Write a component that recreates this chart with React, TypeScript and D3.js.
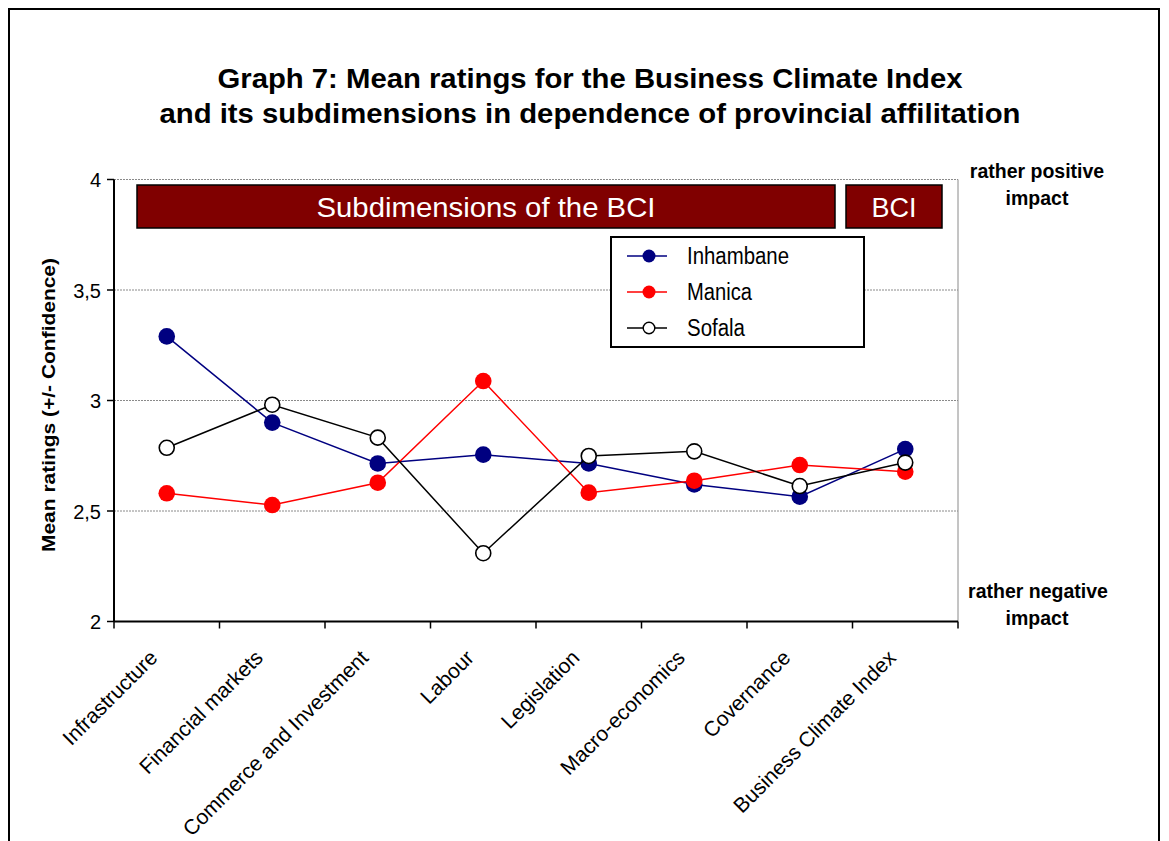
import React from "react";
import * as d3 from "d3";

const categories = [
  "Infrastructure",
  "Financial markets",
  "Commerce and Investment",
  "Labour",
  "Legislation",
  "Macro-economics",
  "Covernance",
  "Business Climate Index",
];
const inhambane = [3.29, 2.9, 2.715, 2.755, 2.715, 2.62, 2.565, 2.78];
const manica = [2.58, 2.527, 2.628, 3.088, 2.583, 2.637, 2.708, 2.678];
const sofala = [2.786, 2.981, 2.832, 2.309, 2.749, 2.77, 2.613, 2.719];
const yTicks = [2, 2.5, 3, 3.5, 4];
const yTickLabels = ["2", "2,5", "3", "3,5", "4"];
const seriesNames = ["Inhambane", "Manica", "Sofala"];

const FONT = "'Liberation Sans', Arial, sans-serif";

const W = 1169;
const H = 841;
const left = 114;
const right = 958;
const top = 179.5;
const bottom = 621.5;

export default function App() {
  const x = d3.scaleBand<string>().domain(categories).range([left, right]);
  const y = d3.scaleLinear().domain([2, 4]).range([bottom, top]);
  const cx = (c: string) => (x(c) as number) + x.bandwidth() / 2;

  const series = [
    { name: seriesNames[0], values: inhambane, stroke: "#000080", fill: "#000080", mstroke: "#000080" },
    { name: seriesNames[1], values: manica, stroke: "#FF0000", fill: "#FF0000", mstroke: "#FF0000" },
    { name: seriesNames[2], values: sofala, stroke: "#000000", fill: "#FFFFFF", mstroke: "#000000" },
  ];

  const line = d3
    .line<number>()
    .x((_, i) => cx(categories[i]))
    .y((d) => y(d));

  const boundaries = d3.range(categories.length + 1).map((i) => left + i * x.step());

  const legendX = 611;
  const legendY = 237;
  const legendRows = [256, 292, 328];
  const legendLens = [102, 65, 58];

  return (
    <div style={{ position: "absolute", left: 0, top: 0, width: W, height: H, background: "#fff" }}>
      <svg width={W} height={H} style={{ display: "block" }} fontFamily={FONT}>
        <rect x={0} y={0} width={W} height={H} fill="#fff" />
        {/* outer frame */}
        <rect x={9} y={9} width={1150} height={900} fill="none" stroke="#000" strokeWidth={2} />

        {/* title */}
        <text x={590} y={88} fontSize={28} fontWeight="bold" textAnchor="middle" textLength={745} lengthAdjust="spacingAndGlyphs">
          Graph 7: Mean ratings for the Business Climate Index
        </text>
        <text x={590} y={123} fontSize={28} fontWeight="bold" textAnchor="middle" textLength={861} lengthAdjust="spacingAndGlyphs">
          and its subdimensions in dependence of provincial affilitation
        </text>

        {/* gridlines */}
        {yTicks.slice(1).map((t) => (
          <line key={t} x1={left} x2={right} y1={y(t)} y2={y(t)} stroke="#8a8a8a" strokeWidth={1} strokeDasharray="2,1" />
        ))}
        <line x1={right} x2={right} y1={top} y2={bottom} stroke="#8a8a8a" strokeWidth={1} />

        {/* maroon boxes */}
        <rect x={137} y={185} width={698} height={43} fill="#800000" stroke="#000" strokeWidth={1.5} />
        <text x={486} y={217} fontSize={27} fill="#fff" textAnchor="middle" textLength={339} lengthAdjust="spacingAndGlyphs">
          Subdimensions of the BCI
        </text>
        <rect x={846} y={185} width={96} height={43} fill="#800000" stroke="#000" strokeWidth={1.5} />
        <text x={894} y={217} fontSize={27} fill="#fff" textAnchor="middle">
          BCI
        </text>

        {/* axes */}
        <line x1={left} x2={left} y1={top} y2={bottom} stroke="#000" strokeWidth={2} />
        <line x1={left} x2={right} y1={bottom} y2={bottom} stroke="#000" strokeWidth={2} />
        {yTicks.map((t, i) => (
          <g key={t}>
            <line x1={left - 7} x2={left} y1={y(t)} y2={y(t)} stroke="#000" strokeWidth={1.5} />
            <text x={101} y={y(t) + 7.5} fontSize={20} textAnchor="end">
              {yTickLabels[i]}
            </text>
          </g>
        ))}
        {boundaries.map((b, i) => (
          <line key={i} x1={b} x2={b} y1={bottom} y2={bottom + 7} stroke="#000" strokeWidth={1.5} />
        ))}
        {categories.map((c) => (
          <text
            key={c}
            transform={`translate(${cx(c) - 8},${659}) rotate(-45)`}
            fontSize={21}
            textAnchor="end"
          >
            {c}
          </text>
        ))}

        {/* y-axis title */}
        <text
          transform={`translate(55,405) rotate(-90)`}
          fontSize={19}
          fontWeight="bold"
          textAnchor="middle"
          textLength={294}
          lengthAdjust="spacingAndGlyphs"
        >
          Mean ratings (+/- Confidence)
        </text>

        {/* right annotations */}
        <text x={1037} y={178} fontSize={19.5} fontWeight="bold" textAnchor="middle">rather positive</text>
        <text x={1037} y={205} fontSize={19.5} fontWeight="bold" textAnchor="middle">impact</text>
        <text x={1038} y={598} fontSize={19.5} fontWeight="bold" textAnchor="middle">rather negative</text>
        <text x={1037} y={625} fontSize={19.5} fontWeight="bold" textAnchor="middle">impact</text>

        {/* series */}
        {series.map((s) => (
          <g key={s.name}>
            <path d={line(s.values) || ""} fill="none" stroke={s.stroke} strokeWidth={1.5} />
            {s.values.map((v, i) => (
              <circle key={i} cx={cx(categories[i])} cy={y(v)} r={s.fill === "#FFFFFF" ? 7.5 : 8.3} fill={s.fill} stroke={s.mstroke} strokeWidth={s.fill === "#FFFFFF" ? 1.6 : 0} />
            ))}
          </g>
        ))}

        {/* legend */}
        <rect x={legendX} y={legendY} width={253} height={110} fill="#fff" stroke="#000" strokeWidth={2} />
        {series.map((s, i) => (
          <g key={s.name}>
            <line x1={627} x2={667} y1={legendRows[i]} y2={legendRows[i]} stroke={s.stroke} strokeWidth={1.5} />
            <circle cx={649} cy={legendRows[i]} r={s.fill === "#FFFFFF" ? 5.8 : 6.5} fill={s.fill} stroke={s.mstroke} strokeWidth={s.fill === "#FFFFFF" ? 1.4 : 0} />
            <text x={687} y={legendRows[i] + 8.3} fontSize={23} textLength={legendLens[i]} lengthAdjust="spacingAndGlyphs">
              {s.name}
            </text>
          </g>
        ))}
      </svg>
    </div>
  );
}
